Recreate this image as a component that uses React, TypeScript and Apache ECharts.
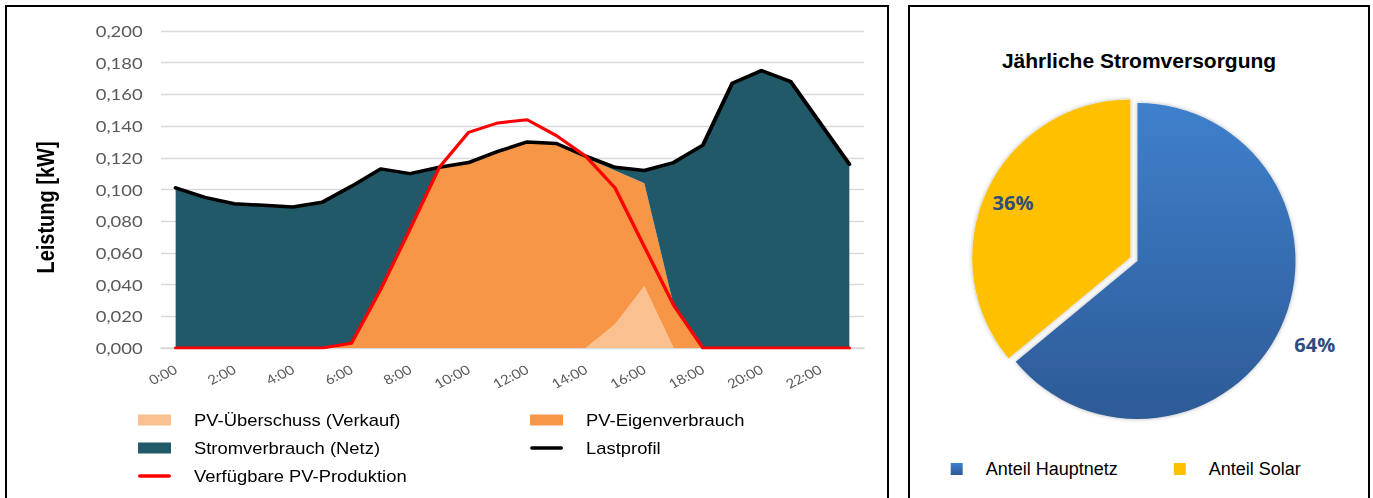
import React, { useEffect, useRef } from 'react';
import * as echarts from 'echarts';

// Hourly categories of the daily load profile
const hours = [
  '0:00', '1:00', '2:00', '3:00', '4:00', '5:00', '6:00', '7:00', '8:00', '9:00', '10:00', '11:00',
  '12:00', '13:00', '14:00', '15:00', '16:00', '17:00', '18:00', '19:00', '20:00', '21:00', '22:00', '23:00',
];

// Stacked components (kW)
const pvUeberschuss = [0, 0, 0, 0, 0, 0, 0, 0, 0, 0, 0, 0, 0, 0, 0, 0.015, 0.039, 0, 0, 0, 0, 0, 0, 0];
const pvEigenverbrauch = [0, 0, 0, 0, 0, 0, 0.003, 0.037, 0.075, 0.114, 0.117, 0.124, 0.130, 0.129, 0.120, 0.097, 0.065, 0.027, 0, 0, 0, 0, 0, 0];
const netzbezug = [0.101, 0.095, 0.091, 0.090, 0.089, 0.092, 0.099, 0.076, 0.035, 0, 0, 0, 0, 0, 0.001, 0.002, 0.008, 0.090, 0.128, 0.167, 0.175, 0.168, 0.142, 0.116];

// Line series (kW)
const lastprofil = [0.101, 0.095, 0.091, 0.090, 0.089, 0.092, 0.102, 0.113, 0.110, 0.114, 0.117, 0.124, 0.130, 0.129, 0.121, 0.114, 0.112, 0.117, 0.128, 0.167, 0.175, 0.168, 0.142, 0.116];
const pvProduktion = [0, 0, 0, 0, 0, 0, 0.003, 0.037, 0.075, 0.114, 0.136, 0.142, 0.144, 0.134, 0.121, 0.101, 0.064, 0.027, 0, 0, 0, 0, 0, 0];

// Value axis range
const yMin = 0;
const yMax = 0.2;
const yStep = 0.02;

// Annual supply split (%)
const pieNames = ['Anteil Hauptnetz', 'Anteil Solar'];
const pieShares = [64, 36];

// The daily profile panel is drawn with horizontally widened glyphs
const STRETCH_X = 1.15;
const LEFT_W = 890 / STRETCH_X;

const PIE_CENTER = [227.5, 254];
const PIE_RADIUS = 158;
const PIE_LABEL_RADIUS = [1.24, 0.82];

// Legend marker for line series: a short bar with rounded ends
const LINE_ICON = 'path://M2,0 H31 A2,2 0 0 1 31,4 H2 A2,2 0 0 1 2,0 Z';

const COLORS = {
  ueberschuss: '#FAC090',
  eigen: '#F79646',
  netz: '#215968',
  last: '#000000',
  pv: '#FF0000',
  grid: '#d9d9d9',
  tick: '#595959',
};

function areaSeries(name: string, data: number[], color: string) {
  return {
    name,
    type: 'line',
    stack: 'verbrauch',
    data,
    symbol: 'none',
    lineStyle: { width: 0, color },
    itemStyle: { color },
    areaStyle: { color, opacity: 1 },
  };
}

function lineSeries(name: string, data: number[], color: string, width: number) {
  return {
    name,
    type: 'line',
    data,
    symbol: 'none',
    lineStyle: { width, color, join: 'round', cap: 'round' },
    itemStyle: { color },
  };
}

const legendBase = {
  orient: 'vertical',
  top: 412,
  padding: 0,
  itemWidth: 28.7,
  itemHeight: 11,
  itemGap: 12,
  symbolKeepAspect: true,
  selectedMode: false,
  itemStyle: { borderWidth: 0 },
  textStyle: {
    fontFamily: 'Liberation Sans, Arial, sans-serif',
    fontSize: 16,
    color: '#000',
    padding: [0, 0, 0, 15],
  },
};

function profileOption() {
  return {
    animation: false,
    backgroundColor: 'transparent',
    textStyle: { fontFamily: 'Lato, sans-serif' },
    grid: { left: 140, top: 31, width: 611.3, height: 317 },
    xAxis: {
      type: 'category',
      data: hours,
      boundaryGap: true,
      axisLine: { lineStyle: { color: COLORS.grid, width: 1.5 } },
      axisTick: { show: false },
      axisLabel: {
        interval: 1,
        rotate: 30,
        margin: 20,
        color: COLORS.tick,
        fontSize: 13,
        fontFamily: 'Lato, sans-serif',
      },
    },
    yAxis: {
      type: 'value',
      min: yMin,
      max: yMax,
      interval: yStep,
      axisLine: { show: false },
      axisTick: { show: false },
      splitLine: { lineStyle: { color: COLORS.grid, width: 1.3 } },
      axisLabel: {
        margin: 16,
        color: COLORS.tick,
        fontSize: 16,
        fontFamily: 'Lato, sans-serif',
        formatter: (v: number) => v.toFixed(3).replace('.', ','),
      },
      name: 'Leistung [kW]',
      nameLocation: 'middle',
      nameGap: 90,
      nameTextStyle: {
        fontFamily: 'Liberation Sans, Arial, sans-serif',
        fontWeight: 'bold',
        fontSize: 20,
        color: '#000',
        padding: [0, 36, 0, 0],
      },
    },
    legend: [
      {
        ...legendBase,
        left: 120,
        data: [
          { name: 'PV-Überschuss (Verkauf)', icon: 'rect' },
          { name: 'Stromverbrauch (Netz)', icon: 'rect' },
          { name: 'Verfügbare PV-Produktion', icon: LINE_ICON },
        ],
      },
      {
        ...legendBase,
        left: 460.9,
        data: [
          { name: 'PV-Eigenverbrauch', icon: 'rect' },
          { name: 'Lastprofil', icon: LINE_ICON },
        ],
      },
    ],
    series: [
      areaSeries('PV-Überschuss (Verkauf)', pvUeberschuss, COLORS.ueberschuss),
      areaSeries('PV-Eigenverbrauch', pvEigenverbrauch, COLORS.eigen),
      areaSeries('Stromverbrauch (Netz)', netzbezug, COLORS.netz),
      lineSeries('Lastprofil', lastprofil, COLORS.last, 3.5),
      lineSeries('Verfügbare PV-Produktion', pvProduktion, COLORS.pv, 3),
    ],
  };
}

function pieOption() {
  const blue = new echarts.graphic.LinearGradient(0, 0, 0, 1, [
    { offset: 0, color: '#3F80CC' },
    { offset: 1, color: '#2D5A96' },
  ]);
  const colors = [blue, '#FFC000'];
  return {
    animation: false,
    title: {
      text: 'Jährliche Stromversorgung',
      left: 'center',
      top: 43,
      padding: 0,
      textStyle: {
        fontFamily: 'Liberation Sans, Arial, sans-serif',
        fontWeight: 'bold',
        fontSize: 21,
        color: '#000',
      },
    },
    legend: {
      left: 40.7,
      top: 453,
      padding: 0,
      icon: 'rect',
      itemWidth: 12,
      itemHeight: 12,
      itemGap: 56,
      selectedMode: false,
      data: pieNames,
      textStyle: {
        fontFamily: 'Liberation Sans, Arial, sans-serif',
        fontSize: 18,
        color: '#000',
        padding: [0, 0, 0, 18],
      },
    },
    series: [
      {
        type: 'pie',
        center: PIE_CENTER,
        radius: PIE_RADIUS,
        startAngle: 90,
        clockwise: true,
        selectedMode: 'single',
        selectedOffset: 8,
        emphasis: { scale: false },
        itemStyle: { shadowBlur: 4, shadowColor: 'rgba(0,0,0,0.3)' },
        label: {
          position: 'inside',
          formatter: (p: any) => `${p.value}%`,
          fontFamily: 'Open Sans, sans-serif',
          fontWeight: 'bold',
          fontSize: 20,
          color: '#2c4d7e',
        },
        labelLine: { show: false },
        labelLayout: (p: any) => {
          const r = p.labelRect;
          const cx = r.x + r.width / 2;
          const cy = r.y + r.height / 2;
          const vx = cx - PIE_CENTER[0];
          const vy = cy - PIE_CENTER[1];
          const len = Math.hypot(vx, vy) || 1;
          const target = PIE_RADIUS * PIE_LABEL_RADIUS[p.dataIndex];
          return { dx: (vx / len) * target - vx, dy: (vy / len) * target - vy };
        },
        data: pieNames.map((name, i) => ({
          name,
          value: pieShares[i],
          selected: i === 1,
          itemStyle: { color: colors[i] },
        })),
      },
    ],
  };
}

export default function App() {
  const lineRef = useRef<HTMLDivElement>(null);
  const pieRef = useRef<HTMLDivElement>(null);

  useEffect(() => {
    if (!lineRef.current || !pieRef.current) return;
    const lineChart = echarts.init(lineRef.current, undefined, { renderer: 'svg' });
    lineChart.setOption(profileOption() as any);
    const pieChart = echarts.init(pieRef.current, undefined, { renderer: 'svg' });
    pieChart.setOption(pieOption() as any);
    return () => {
      lineChart.dispose();
      pieChart.dispose();
    };
  }, []);

  return (
    <div
      style={{
        position: 'fixed',
        left: 0,
        top: 0,
        width: 1373,
        height: 498,
        background: '#fff',
        overflow: 'hidden',
      }}
    >
      <div
        ref={lineRef}
        style={{
          position: 'absolute',
          left: 0,
          top: 0,
          width: LEFT_W,
          height: 498,
          transform: `scaleX(${STRETCH_X})`,
          transformOrigin: '0 0',
        }}
      />
      <div
        ref={pieRef}
        style={{ position: 'absolute', left: 910, top: 7, width: 458, height: 491 }}
      />
      <div
        style={{
          position: 'absolute',
          left: 5,
          top: 5,
          width: 884,
          height: 510,
          border: '2px solid #000',
          boxSizing: 'border-box',
          pointerEvents: 'none',
        }}
      />
      <div
        style={{
          position: 'absolute',
          left: 908,
          top: 5,
          width: 462,
          height: 510,
          border: '2px solid #000',
          boxSizing: 'border-box',
          pointerEvents: 'none',
        }}
      />
    </div>
  );
}
